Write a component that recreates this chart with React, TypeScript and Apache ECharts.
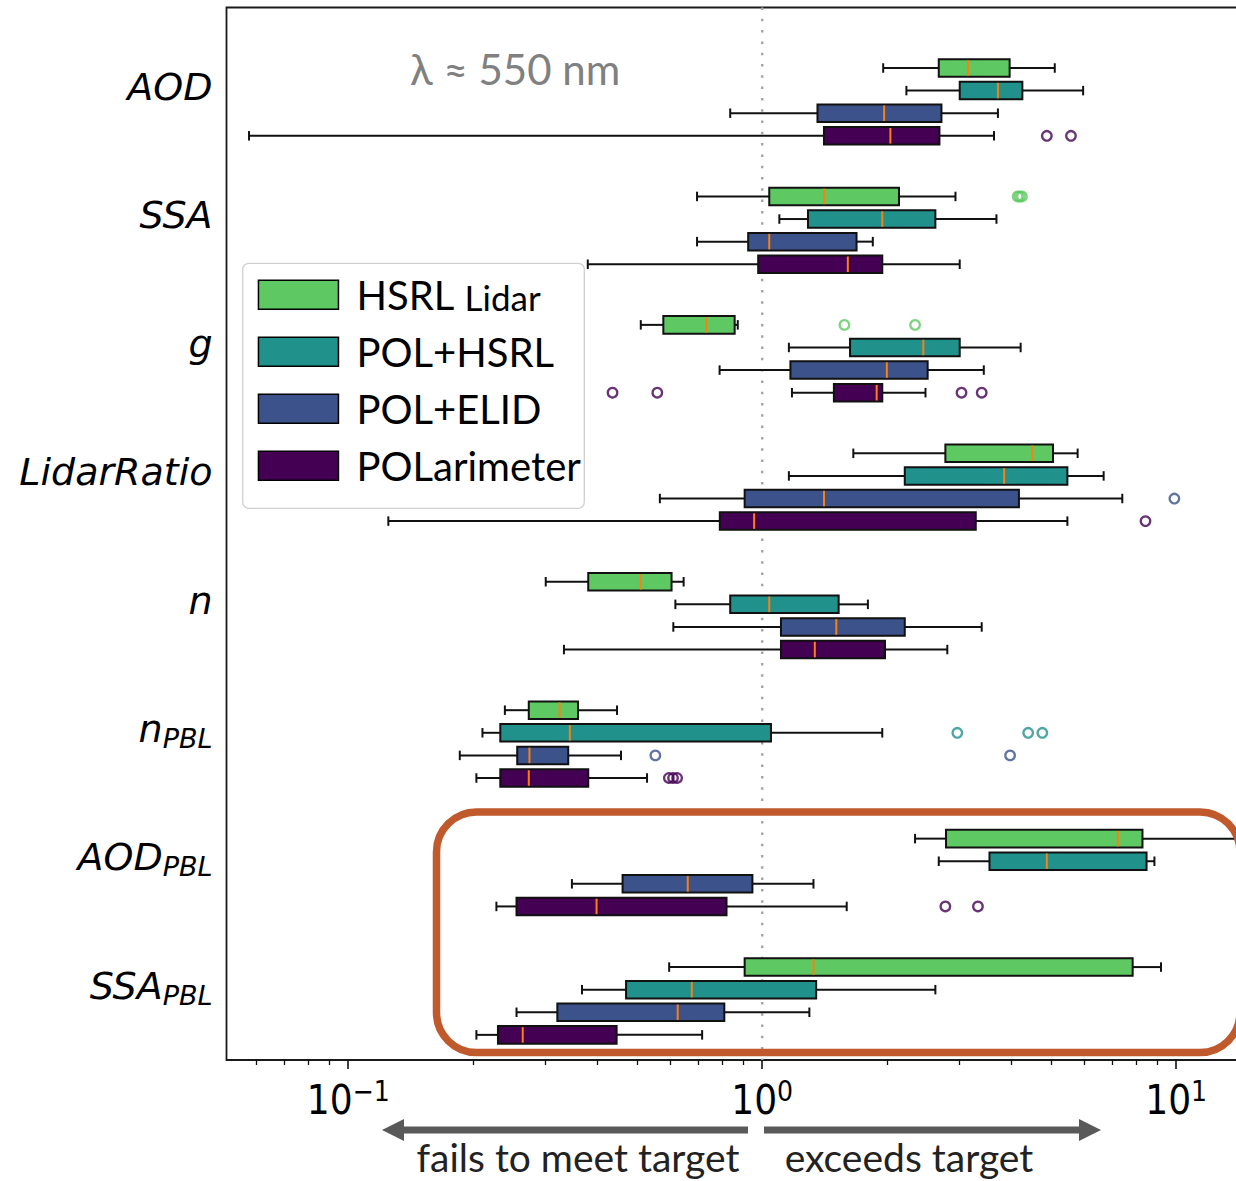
import React, { useEffect, useRef } from 'react';
import * as echarts from 'echarts';

// ---------- data ----------
const METHODS = ['HSRL Lidar', 'POL+HSRL', 'POL+ELID', 'POLarimeter'];
const COLORS = ['#5ec962', '#21918c', '#3b528b', '#440154'];
const PARAMS = ['AOD', 'SSA', 'g', 'LidarRatio', 'n', 'nPBL', 'AODPBL', 'SSAPBL'];
const PARAM_MAIN = ['AOD', 'SSA', 'g', 'LidarRatio', 'n', 'n', 'AOD', 'SSA'];
const PARAM_SUB = ['', '', '', '', '', 'PBL', 'PBL', 'PBL'];

// [whisker low, Q1, median, Q3, whisker high] per parameter (ratio to target)
const HSRL_STATS = [
  [1.96, 2.67, 3.14, 3.96, 5.09],
  [0.696, 1.04, 1.41, 2.14, 2.93],
  [0.509, 0.577, 0.732, 0.858, 0.873],
  [1.66, 2.77, 4.49, 5.04, 5.78],
  [0.30, 0.38, 0.509, 0.604, 0.646],
  [0.239, 0.273, 0.324, 0.359, 0.446],
  [2.34, 2.78, 7.23, 8.29, 16],
  [0.596, 0.907, 1.33, 7.85, 9.19],
];
const POLHSRL_STATS = [
  [2.23, 3.0, 3.71, 4.25, 5.96],
  [1.10, 1.29, 1.95, 2.62, 3.68],
  [1.16, 1.63, 2.45, 3.0, 4.21],
  [1.16, 2.21, 3.84, 5.46, 6.68],
  [0.617, 0.837, 1.04, 1.53, 1.80],
  [0.211, 0.233, 0.343, 1.05, 1.95],
  [2.67, 3.54, 4.87, 8.48, 8.86],
  [0.367, 0.469, 0.676, 1.35, 2.62],
];
const POLELID_STATS = [
  [0.837, 1.36, 1.97, 2.71, 3.71],
  [0.696, 0.925, 1.04, 1.69, 1.85],
  [0.789, 1.17, 2.0, 2.51, 3.43],
  [0.566, 0.907, 1.41, 4.17, 7.41],
  [0.61, 1.11, 1.51, 2.21, 3.39],
  [0.186, 0.256, 0.274, 0.340, 0.456],
  [0.347, 0.46, 0.661, 0.947, 1.33],
  [0.255, 0.320, 0.625, 0.810, 1.30],
];
const POL_STATS = [
  [0.0576, 1.41, 2.04, 2.68, 3.63],
  [0.379, 0.978, 1.61, 1.95, 3.0],
  [1.18, 1.49, 1.89, 1.95, 2.48],
  [0.125, 0.790, 0.956, 3.28, 5.46],
  [0.332, 1.11, 1.34, 1.98, 2.80],
  [0.204, 0.233, 0.273, 0.380, 0.527],
  [0.228, 0.255, 0.398, 0.820, 1.60],
  [0.204, 0.230, 0.264, 0.445, 0.716],
];
const STATS = [HSRL_STATS, POLHSRL_STATS, POLELID_STATS, POL_STATS];

// outliers: [parameter index, value]
const HSRL_OUTLIERS = [[1, 4.14], [1, 4.19], [1, 4.24], [2, 1.58], [2, 2.34]];
const POLHSRL_OUTLIERS = [[5, 2.96], [5, 4.39], [5, 4.75]];
const POLELID_OUTLIERS = [[3, 9.9], [5, 0.552], [5, 3.97]];
const POL_OUTLIERS = [
  [0, 4.87], [0, 5.57], [2, 0.435], [2, 0.558], [2, 3.03], [2, 3.39],
  [3, 8.43], [5, 0.595], [5, 0.609], [5, 0.623], [6, 2.77], [6, 3.32],
];
const OUTLIERS = [HSRL_OUTLIERS, POLHSRL_OUTLIERS, POLELID_OUTLIERS, POL_OUTLIERS];

const MAJOR_TICKS = [0.1, 1, 10];
const MINOR_TICKS = [0.06, 0.07, 0.08, 0.09, 0.2, 0.3, 0.4, 0.5, 0.6, 0.7, 0.8, 0.9, 2, 3, 4, 5, 6, 7, 8, 9];

// ---------- layout (y in "slot" units, x in log10 units) ----------
const FIRST_BOX = 2.677;
const GROUP_STEP = 5.683;
const SLOT = 1;
const LABEL_OFFSET = 0.83;
const Y_MAX = 46.57;
const BOX_H = 0.775;
const CAP_H = 0.42;
const X_MIN = -1.294;
const X_MAX = 1.1783;

const yPos = (gi: number, si: number) => FIRST_BOX + gi * GROUP_STEP + si * SLOT;
const LABEL_POS = PARAMS.map((_, gi) => FIRST_BOX + gi * GROUP_STEP + LABEL_OFFSET);

const renderBox = (_params: any, api: any) => {
  const yv = api.value(0);
  const lo = api.coord([api.value(1), yv]);
  const q1 = api.coord([api.value(2), yv]);
  const md = api.coord([api.value(3), yv]);
  const q3 = api.coord([api.value(4), yv]);
  const hi = api.coord([api.value(5), yv]);
  const bh = Math.abs(api.size([0, BOX_H])[1]);
  const ch = Math.abs(api.size([0, CAP_H])[1]);
  const y = lo[1];
  const color = api.visual('color');
  const ls = { stroke: '#111', lineWidth: 2 };
  return {
    type: 'group',
    children: [
      { type: 'line', shape: { x1: lo[0], y1: y, x2: q1[0], y2: y }, style: ls },
      { type: 'line', shape: { x1: q3[0], y1: y, x2: hi[0], y2: y }, style: ls },
      { type: 'line', shape: { x1: lo[0], y1: y - ch / 2, x2: lo[0], y2: y + ch / 2 }, style: ls },
      { type: 'line', shape: { x1: hi[0], y1: y - ch / 2, x2: hi[0], y2: y + ch / 2 }, style: ls },
      {
        type: 'rect',
        shape: { x: q1[0], y: y - bh / 2, width: q3[0] - q1[0], height: bh },
        style: { fill: color, stroke: '#111', lineWidth: 2 },
      },
      {
        type: 'line',
        shape: { x1: md[0], y1: y - bh / 2 + 1, x2: md[0], y2: y + bh / 2 - 1 },
        style: { stroke: '#ff7f0e', lineWidth: 2 },
      },
    ],
  };
};

const YFONT = "'DejaVu Sans', sans-serif";
const LATO = "Lato, 'Open Sans', sans-serif";
const TICKFONT = "'DejaVu Sans Condensed', 'DejaVu Sans'";

function buildOption() {
  const boxSeries = METHODS.map((name, si) => ({
    type: 'custom',
    name,
    renderItem: renderBox,
    itemStyle: { color: COLORS[si] },
    encode: { x: [1, 2, 3, 4, 5], y: 0 },
    data: STATS[si].map((s, gi) => [yPos(gi, si), ...s.map((v) => Math.log10(v))]),
    z: 3,
    silent: true,
  }));
  const outlierSeries = METHODS.map((name, si) => ({
    type: 'scatter',
    name,
    symbol: 'circle',
    symbolSize: 9.5,
    itemStyle: { color: 'rgba(0,0,0,0)', borderColor: COLORS[si], borderWidth: 2.3 },
    data: OUTLIERS[si].map(([gi, v]) => [Math.log10(v), yPos(gi, si)]),
    z: 4,
    silent: true,
  }));
  const refLine = {
    type: 'line',
    name: 'target',
    data: [[0, 0], [0, Y_MAX]],
    symbol: 'none',
    silent: true,
    z: 1,
    lineStyle: { color: '#a6a6a6', width: 2.5, type: [2.5, 8.8] },
  };

  return {
    animation: false,
    backgroundColor: '#ffffff',
    grid: {
      left: 226.5,
      top: 7.5,
      width: 1023.5,
      height: 1052.5,
      show: true,
      borderColor: '#1a1a1a',
      borderWidth: 1.8,
      backgroundColor: 'rgba(0,0,0,0)',
    },
    xAxis: [
      {
        type: 'value',
        min: X_MIN,
        max: X_MAX,
        position: 'bottom',
        axisLine: { show: false, onZero: false },
        splitLine: { show: false },
        axisTick: {
          show: true,
          customValues: MAJOR_TICKS.map((v) => Math.log10(v)),
          length: 9,
          lineStyle: { color: '#111', width: 1.6 },
        },
        axisLabel: {
          customValues: MAJOR_TICKS.map((v) => Math.log10(v)),
          margin: 17,
          color: '#000',
          formatter: (v: number) => {
            const e = Math.round(v);
            return `{b|10}{s|${e < 0 ? '\u2212' + -e : e}}`;
          },
          rich: {
            b: { fontFamily: TICKFONT, fontSize: 40, lineHeight: 46, color: '#000' },
            s: { fontFamily: TICKFONT, fontSize: 28, lineHeight: 28, padding: [0, 0, 18, 0], color: '#000' },
          },
        },
      },
      {
        type: 'value',
        min: X_MIN,
        max: X_MAX,
        position: 'bottom',
        axisLine: { show: false, onZero: false },
        splitLine: { show: false },
        axisTick: {
          show: true,
          customValues: MINOR_TICKS.map((v) => Math.log10(v)),
          length: 5,
          lineStyle: { color: '#111', width: 1.3 },
        },
        axisLabel: { show: false },
      },
    ],
    yAxis: {
      type: 'value',
      inverse: true,
      min: 0,
      max: Y_MAX,
      axisLine: { show: false, onZero: false },
      axisTick: { show: false },
      splitLine: { show: false },
      axisLabel: {
        customValues: LABEL_POS,
        margin: 14,
        color: '#000',
        formatter: (v: number) => {
          const i = LABEL_POS.findIndex((p) => Math.abs(p - v) < 0.01);
          if (i < 0) return '';
          return PARAM_SUB[i] ? `{m|${PARAM_MAIN[i]}}{s|${PARAM_SUB[i]}}` : `{m|${PARAM_MAIN[i]}}`;
        },
        rich: {
          m: { fontFamily: YFONT, fontStyle: 'italic', fontSize: 38, lineHeight: 46, color: '#000' },
          s: {
            fontFamily: YFONT,
            fontStyle: 'italic',
            fontSize: 27,
            lineHeight: 27,
            padding: [19, 0, 0, 0],
            color: '#000',
          },
        },
      },
    },
    legend: {
      show: true,
      orient: 'vertical',
      left: 257.7,
      top: 274.7,
      padding: 0,
      itemWidth: 80,
      itemHeight: 29,
      itemGap: 17,
      selectedMode: false,
      z: 10,
      data: METHODS.map((name, i) => ({
        name,
        icon: 'rect',
        itemStyle: { color: COLORS[i], borderColor: '#000', borderWidth: 1.5 },
      })),
      formatter: (name: string) =>
        name === 'HSRL Lidar' ? '{a|HSRL} {b|Lidar}' : `{a|${name}}`,
      textStyle: {
        fontFamily: LATO,
        fontSize: 40,
        lineHeight: 29,
        color: '#000',
        rich: {
          a: { fontFamily: LATO, fontSize: 40, lineHeight: 29, padding: [0, 0, 0, 13], color: '#000' },
          b: { fontFamily: LATO, fontSize: 35, lineHeight: 24, padding: [5, 0, 0, 0], color: '#000' },
        },
      },
    },
    graphic: [
      {
        type: 'rect',
        z: 9,
        shape: { x: 242.7, y: 263.3, width: 341.6, height: 245, r: 6 },
        style: { fill: 'rgba(255,255,255,0.8)', stroke: '#d0d0d0', lineWidth: 1.3 },
      },
      {
        type: 'rect',
        z: 8,
        shape: { x: 436.5, y: 812, width: 803.5, height: 240.5, r: 40 },
        style: { fill: 'none', stroke: '#c0592b', lineWidth: 7.5 },
      },
      {
        type: 'text',
        z: 8,
        x: 410,
        y: 69,
        style: {
          text: '\u03bb \u2248 550 nm',
          fontFamily: LATO,
          fontSize: 42,
          fill: '#808080',
          align: 'left',
          verticalAlign: 'middle',
        },
      },
      {
        type: 'polygon',
        z: 8,
        shape: {
          points: [
            [382, 1130], [404, 1119], [404, 1126.5], [748, 1126.5],
            [748, 1133.5], [404, 1133.5], [404, 1141],
          ],
        },
        style: { fill: '#595959' },
      },
      {
        type: 'polygon',
        z: 8,
        shape: {
          points: [
            [1101, 1130], [1079, 1119], [1079, 1126.5], [764, 1126.5],
            [764, 1133.5], [1079, 1133.5], [1079, 1141],
          ],
        },
        style: { fill: '#595959' },
      },
      {
        type: 'text',
        z: 8,
        x: 578,
        y: 1157,
        style: {
          text: 'fails to meet target',
          fontFamily: LATO,
          fontSize: 39,
          fill: '#222',
          align: 'center',
          verticalAlign: 'middle',
        },
      },
      {
        type: 'text',
        z: 8,
        x: 909,
        y: 1157,
        style: {
          text: 'exceeds target',
          fontFamily: LATO,
          fontSize: 39,
          fill: '#222',
          align: 'center',
          verticalAlign: 'middle',
        },
      },
    ],
    series: [refLine, ...boxSeries, ...outlierSeries],
  };
}

export default function App() {
  const ref = useRef<HTMLDivElement>(null);
  useEffect(() => {
    if (!ref.current) return;
    const chart = echarts.init(ref.current, undefined, { renderer: 'svg' });
    chart.setOption(buildOption() as any);
    return () => chart.dispose();
  }, []);
  return (
    <div
      ref={ref}
      style={{ position: 'fixed', left: 0, top: 0, width: 1262, height: 1181, background: '#fff' }}
    />
  );
}
